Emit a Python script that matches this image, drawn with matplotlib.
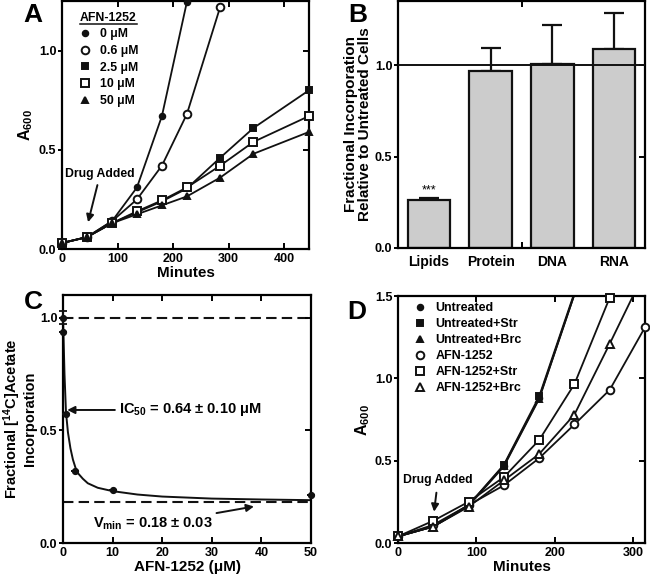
import numpy as np
import matplotlib

matplotlib.use("Agg")
import matplotlib.pyplot as plt
from matplotlib.lines import Line2D

plt.rcParams.update({
    "font.family": ["Liberation Sans", "DejaVu Sans"],
    "font.weight": "bold",
    "axes.labelweight": "bold",
    "mathtext.fontset": "custom",
    "mathtext.rm": "Liberation Sans:bold",
    "mathtext.it": "Liberation Sans:bold",
    "mathtext.bf": "Liberation Sans:bold",
    "mathtext.default": "rm",
    "axes.linewidth": 1.6,
    "xtick.major.width": 1.4,
    "ytick.major.width": 1.4,
    "xtick.minor.width": 1.4,
    "ytick.minor.width": 1.4,
})

# ---- Panel A: growth with AFN-1252 ----
a_minutes = [0, 45, 90, 135, 180, 225, 285, 345, 445]
a_labels = ["0 μM", "0.6 μM", "2.5 μM", "10 μM", "50 μM"]
a_0uM = [0.03, 0.06, 0.14, 0.31, 0.67, 1.245]
a_06uM = [0.03, 0.06, 0.14, 0.25, 0.42, 0.68, 1.22]
a_25uM = [0.03, 0.06, 0.13, 0.185, 0.24, 0.305, 0.46, 0.61, 0.80]
a_10uM = [0.03, 0.06, 0.13, 0.19, 0.245, 0.31, 0.42, 0.54, 0.67]
a_50uM = [0.03, 0.06, 0.13, 0.175, 0.22, 0.265, 0.36, 0.48, 0.59]

# ---- Panel B: macromolecular synthesis ----
b_cats = ["Lipids", "Protein", "DNA", "RNA"]
b_frac = [0.265, 0.965, 1.005, 1.087]
b_err = [0.01, 0.13, 0.215, 0.20]

# ---- Panel C: acetate incorporation dose response ----
c_conc = [0, 0.1, 0.6, 2.5, 10, 50]
c_frac = [1.0, 0.935, 0.57, 0.32, 0.233, 0.215]
c_err = [0.03, 0, 0, 0, 0, 0]
c_fit_x = [0, 0.1, 0.3, 0.6, 1, 1.5, 2, 2.5, 3, 4, 5, 7, 10, 15, 20, 30, 40, 50]
c_fit_y = [1.0, 0.92, 0.75, 0.58, 0.49, 0.42, 0.37, 0.335, 0.31, 0.285, 0.265,
           0.245, 0.23, 0.215, 0.206, 0.197, 0.193, 0.19]
c_vmax = 1.0
c_vmin = 0.18

# ---- Panel D: rescue experiments ----
d_minutes = [0, 45, 90, 135, 180, 225, 270, 315]
d_labels = ["Untreated", "Untreated+Str", "Untreated+Brc",
            "AFN-1252", "AFN-1252+Str", "AFN-1252+Brc"]
d_untreated = [0.04, 0.10, 0.23, 0.47, 0.88, 1.51]
d_untreated_str = [0.04, 0.10, 0.23, 0.475, 0.89, 1.52]
d_untreated_brc = [0.04, 0.10, 0.225, 0.465, 0.875, 1.51]
d_afn = [0.04, 0.11, 0.23, 0.35, 0.515, 0.72, 0.93, 1.31]
d_afn_str = [0.04, 0.135, 0.25, 0.40, 0.625, 0.965, 1.49, 2.2]
d_afn_brc = [0.04, 0.10, 0.22, 0.38, 0.54, 0.78, 1.21, 1.65]

W, H = 650, 577
fig = plt.figure(figsize=(W / 100, H / 100), dpi=100)


def px_axes(left, top, right, bottom):
    return fig.add_axes([left / W, 1 - bottom / H, (right - left) / W, (bottom - top) / H])


def style_ticks(ax, xt, yt, xt_top, yt_right):
    ax.set_xticks(xt)
    ax.set_yticks(yt)
    ax.set_yticklabels([f"{v:.1f}" for v in yt])
    ax.tick_params(axis="x", which="major", direction="in", length=4, pad=3, labelsize=9)
    ax.tick_params(axis="y", which="major", direction="out", length=3, pad=1, labelsize=9)
    ax.set_xticks(xt_top, minor=True)
    ax.set_yticks(yt_right, minor=True)
    ax.xaxis.remove_overlapping_locs = False
    ax.yaxis.remove_overlapping_locs = False
    ax.tick_params(axis="x", which="minor", direction="in", length=4,
                   top=True, bottom=False)
    ax.tick_params(axis="y", which="minor", direction="in", length=4,
                   right=True, left=False)


def plot_series(ax, x, y, marker, filled, ms, ymax):
    y = np.asarray(y, dtype=float)
    x = np.asarray(x[: len(y)], dtype=float)
    ax.plot(x, y, color="#111111", lw=1.3, zorder=2)
    keep = y <= ymax
    ax.plot(x[keep], y[keep], ls="none", marker=marker, ms=ms,
            mfc="#111111" if filled else "white", mec="#111111", mew=1.4,
            clip_on=False, zorder=3)


def legend_handle(marker, filled, ms):
    return Line2D([], [], ls="none", marker=marker, ms=ms,
                  mfc="#111111" if filled else "white", mec="#111111", mew=1.4)


# ================= Panel A =================
axA = px_axes(62, 1, 309, 249)
a_styles = [("o", True, 4), ("o", False, 5.5), ("s", True, 4.2), ("s", False, 5.5), ("^", True, 4)]
for vals, (m, f, ms) in zip([a_0uM, a_06uM, a_25uM, a_10uM, a_50uM], a_styles):
    plot_series(axA, a_minutes, vals, m, f, ms, 1.25)
axA.set_xlim(0, 445)
axA.set_ylim(0, 1.25)
style_ticks(axA, [0, 100, 200, 300, 400], [0.0, 0.5, 1.0], [100, 200, 300, 400], [0.5, 1.0])
axA.set_xlabel("Minutes", fontsize=11)
axA.xaxis.set_label_coords(0.5, -0.068)
axA.set_ylabel("A$_{600}$", fontsize=11.5)
axA.yaxis.set_label_coords(-0.11, 0.5)
axA.annotate("Drug Added", xy=(47, 0.135), xytext=(69, 0.38), ha="center", va="center",
             fontsize=8.8,
             arrowprops=dict(arrowstyle="-|>", color="#111111", lw=1.4,
                             mutation_scale=11, shrinkA=2, shrinkB=0))
axA.text(0.073, 0.931, "AFN-1252", transform=axA.transAxes, fontsize=8.8,
         ha="left", va="center")
axA.plot([0.073, 0.304], [0.906, 0.906], transform=axA.transAxes, color="#111111",
         lw=1.1, clip_on=False)
axA.legend([legend_handle(m, f, ms) for m, f, ms in a_styles], a_labels,
           loc="upper left", bbox_to_anchor=(0.074, 0.89), frameon=False,
           fontsize=8.8, handlelength=0.8, handletextpad=0.8, labelspacing=0.38,
           borderpad=0, borderaxespad=0)

# ================= Panel B =================
axB = px_axes(398, 1, 645, 248)
xb = np.arange(len(b_cats))
axB.bar(xb, b_frac, width=0.69, color="#cccccc", edgecolor="#111111", lw=1.6, zorder=2)
axB.errorbar(xb, b_frac, yerr=[np.zeros(len(b_err)), b_err], fmt="none",
             ecolor="#111111", elinewidth=1.6, capsize=7.5, capthick=1.6, zorder=1)
axB.axhline(1.0, color="#111111", lw=1.4, zorder=3)
axB.set_xlim(-0.5, 3.5)
axB.set_ylim(0, 1.35)
axB.set_yticks([0.0, 0.5, 1.0])
axB.set_yticklabels(["0.0", "0.5", "1.0"])
axB.set_yticks([0.5, 1.0], minor=True)
axB.yaxis.remove_overlapping_locs = False
axB.tick_params(axis="y", which="major", direction="out", length=3, pad=1, labelsize=9)
axB.tick_params(axis="y", which="minor", direction="in", length=4, right=True, left=False)
axB.set_xticks(xb)
axB.set_xticklabels(b_cats, fontsize=10)
axB.tick_params(axis="x", which="major", length=0, pad=5)
axB.set_xticks([1.5], minor=True)
axB.tick_params(axis="x", which="minor", direction="in", length=4, top=True, bottom=True)
axB.text(0, 0.315, "***", ha="center", va="center", fontsize=9, fontweight="normal")
axB.set_ylabel("Fractional Incorporation\nRelative to Untreated Cells", fontsize=11,
               linespacing=1.0)
axB.yaxis.set_label_coords(-0.105, 0.5)

# ================= Panel C =================
axC = px_axes(63, 295, 311, 543)
axC.axhline(c_vmax, color="#111111", lw=1.5, ls=(0, (5, 2.5)), zorder=1)
axC.axhline(c_vmin, color="#111111", lw=1.5, ls=(0, (5, 2.5)), zorder=1)
axC.plot(c_fit_x, c_fit_y, color="#111111", lw=1.4, zorder=2)
axC.errorbar(c_conc, c_frac, yerr=c_err, fmt="o", ms=4.2, color="#111111",
             ecolor="#111111", elinewidth=1.3, capsize=3, capthick=1.3,
             clip_on=False, zorder=3)
axC.set_xlim(0, 50)
axC.set_ylim(0, 1.1)
style_ticks(axC, [0, 10, 20, 30, 40, 50], [0.0, 0.5, 1.0], [10, 20, 30, 40], [0.5, 1.0])
axC.set_xlabel("AFN-1252 (μM)", fontsize=11)
axC.xaxis.set_label_coords(0.5, -0.068)
axC.set_ylabel("Fractional [$^{14}$C]Acetate\nIncorporation", fontsize=10.5, linespacing=1.0)
axC.yaxis.set_label_coords(-0.105, 0.5)
axC.annotate("IC$_{50}$ = 0.64 ± 0.10 μM", xy=(0.85, 0.59), xytext=(11.3, 0.59),
             ha="left", va="center", fontsize=10.5,
             arrowprops=dict(arrowstyle="-|>", color="#111111", lw=1.4,
                             mutation_scale=11, shrinkA=1, shrinkB=0))
axC.annotate("V$_{min}$ = 0.18 ± 0.03", xy=(38.5, 0.162), xytext=(18.1, 0.083),
             ha="center", va="center", fontsize=10.5,
             arrowprops=dict(arrowstyle="-|>", color="#111111", lw=1.4,
                             mutation_scale=11, shrinkA=1, shrinkB=0))

# ================= Panel D =================
axD = px_axes(398, 296, 645, 543)
d_series = [d_untreated, d_untreated_str, d_untreated_brc, d_afn, d_afn_str, d_afn_brc]
d_styles = [("o", True, 4), ("s", True, 4), ("^", True, 3.8),
            ("o", False, 5.5), ("s", False, 5.5), ("^", False, 5.5)]
for vals, (m, f, ms) in zip(d_series, d_styles):
    plot_series(axD, d_minutes, vals, m, f, ms, 1.5)
axD.set_xlim(0, 315)
axD.set_ylim(0, 1.5)
style_ticks(axD, [0, 100, 200, 300], [0.0, 0.5, 1.0, 1.5], [100, 200, 300], [0.5, 1.0])
axD.set_xlabel("Minutes", fontsize=11)
axD.xaxis.set_label_coords(0.5, -0.068)
axD.set_ylabel("A$_{600}$", fontsize=11.5)
axD.yaxis.set_label_coords(-0.105, 0.5)
axD.annotate("Drug Added", xy=(46, 0.19), xytext=(51, 0.384), ha="center", va="center",
             fontsize=8.8,
             arrowprops=dict(arrowstyle="-|>", color="#111111", lw=1.4,
                             mutation_scale=11, shrinkA=3, shrinkB=0))
axD.legend([legend_handle(m, f, ms) for m, f, ms in d_styles], d_labels,
           loc="upper left", bbox_to_anchor=(0.07, 0.975), frameon=False,
           fontsize=9, handlelength=0.8, handletextpad=0.8, labelspacing=0.32,
           borderpad=0, borderaxespad=0)

# panel letters
for letter, x, y in [("A", 23, 3), ("B", 348, 3), ("C", 24, 290), ("D", 347, 300)]:
    fig.text(x / W, 1 - y / H, letter, fontsize=19, ha="left", va="top")

fig.savefig("out.png", dpi=100)
